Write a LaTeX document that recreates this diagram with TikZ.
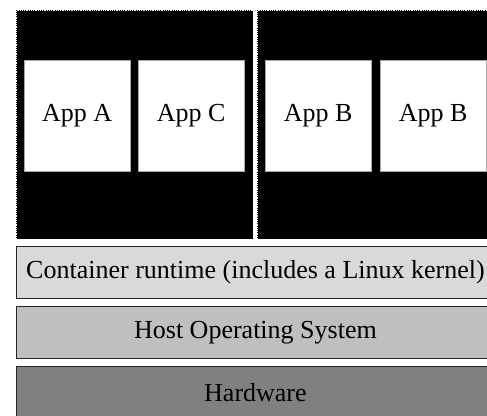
\documentclass[tikz,border=0pt]{standalone}
\usepackage{fontspec}
\setmainfont{Liberation Serif}
\begin{document}
\begin{tikzpicture}[x=1pt, y=-1pt,
  ctr/.style={draw=white, densely dotted, line width=0.8pt, fill=black, anchor=north west,
    minimum width=237pt, minimum height=229pt, inner sep=0pt},
  app/.style={fill=white, draw=black!35, anchor=north west, minimum width=106pt,
    minimum height=111pt, inner sep=0pt, font=\fontsize{26}{30}\selectfont},
  layer/.style={draw=black!85, line width=0.9pt, anchor=north west, minimum width=478pt,
    minimum height=52pt, inner sep=0pt, font=\fontsize{26}{30}\selectfont}
]
  \useasboundingbox (0,0) rectangle (487,415);
  \clip (0,0) rectangle (487,415);

  % two containers
  \node[ctr] (ctrL) at (16,10) {};
  \node[ctr] (ctrR) at (257,10) {};

  % apps inside them
  \node[app] (appA) at (24,60) {App A};
  \node[app] (appC) at (138,60) {App C};
  \node[app] (appB) at (265,60) {App B};
  \node[app] (appB2) at (380,60) {App B};

  % stack below
  \node[layer, fill=black!15] (runtime) at (16,246) {Container runtime (includes a Linux kernel)};
  \node[layer, fill=black!25] (hostos) at (16,306) {Host Operating System};
  \node[layer, fill=black!50] (hw) at (16,366) {Hardware};
\end{tikzpicture}
\end{document}
